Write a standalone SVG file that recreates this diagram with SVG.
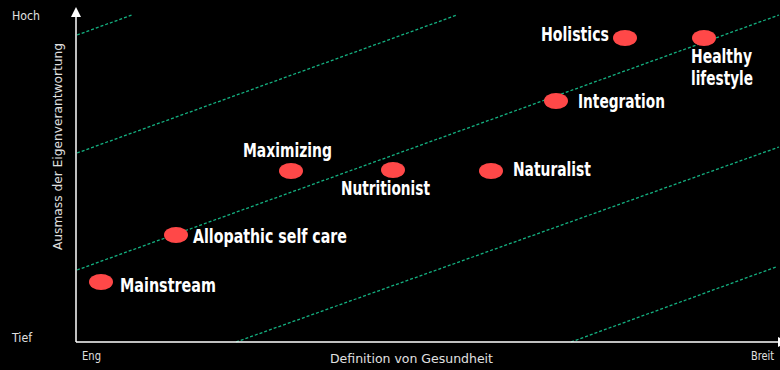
<svg xmlns="http://www.w3.org/2000/svg" width="780" height="370" viewBox="0 0 780 370">
<style>
.bg{fill:#000}
.axis{stroke:#fff;stroke-width:1.5;fill:none}
.ah{fill:#fff}
.guide{stroke:#14b080;stroke-width:1.3;stroke-dasharray:3 2;fill:none}
.dot{fill:#ff4848}
.lbl{font-family:"DejaVu Sans Condensed","Liberation Sans",sans-serif;font-weight:bold;font-size:20px;fill:#fff}
.ax{font-family:"DejaVu Sans Condensed","Liberation Sans",sans-serif;font-size:13px;fill:#e0e0e0}
</style>
<rect class="bg" x="0" y="0" width="780" height="370"/>
<g id="connectors">
<line class="guide" x1="77" y1="35" x2="132" y2="15"/>
<line class="guide" x1="77" y1="153" x2="457" y2="15"/>
<line class="guide" x1="77" y1="270" x2="779" y2="15"/>
<line class="guide" x1="236" y1="342" x2="779" y2="147"/>
<line class="guide" x1="571" y1="342" x2="776" y2="267"/>
</g>
<g id="axes">
<line class="axis" x1="76" y1="342" x2="76" y2="16"/>
<polygon class="ah" points="76,7 71,17 81,17"/>
<line class="axis" x1="76" y1="342" x2="779" y2="342"/>
<polygon class="ah" points="778,337 778,347 788,342"/>
<text class="ax" x="12" y="20" textLength="28" lengthAdjust="spacingAndGlyphs">Hoch</text>
<text class="ax" x="12" y="342" textLength="20" lengthAdjust="spacingAndGlyphs">Tief</text>
<text class="ax" x="82" y="360" textLength="19" lengthAdjust="spacingAndGlyphs">Eng</text>
<text class="ax" x="751" y="360" textLength="23" lengthAdjust="spacingAndGlyphs">Breit</text>
<text class="ax" x="330" y="363" textLength="163" lengthAdjust="spacingAndGlyphs">Definition von Gesundheit</text>
<text class="ax" transform="translate(62,250) rotate(-90)" textLength="207" lengthAdjust="spacingAndGlyphs">Ausmass der Eigenverantwortung</text>
</g>
<g id="mainstream"><ellipse class="dot" cx="101" cy="282" rx="12" ry="8"/><text class="lbl" x="120" y="292" textLength="96" lengthAdjust="spacingAndGlyphs">Mainstream</text></g>
<g id="allopathic"><ellipse class="dot" cx="176" cy="235" rx="12" ry="8"/><text class="lbl" x="193" y="243" textLength="154" lengthAdjust="spacingAndGlyphs">Allopathic self care</text></g>
<g id="maximizing"><ellipse class="dot" cx="291" cy="171" rx="12" ry="8"/><text class="lbl" x="243" y="157" textLength="89" lengthAdjust="spacingAndGlyphs">Maximizing</text></g>
<g id="nutritionist"><ellipse class="dot" cx="393" cy="170" rx="12" ry="8"/><text class="lbl" x="341" y="195" textLength="89" lengthAdjust="spacingAndGlyphs">Nutritionist</text></g>
<g id="naturalist"><ellipse class="dot" cx="491" cy="171" rx="12" ry="8"/><text class="lbl" x="513" y="176" textLength="78" lengthAdjust="spacingAndGlyphs">Naturalist</text></g>
<g id="integration"><ellipse class="dot" cx="556" cy="101" rx="12" ry="8"/><text class="lbl" x="578" y="108" textLength="87" lengthAdjust="spacingAndGlyphs">Integration</text></g>
<g id="holistics"><ellipse class="dot" cx="625" cy="38" rx="12" ry="8"/><text class="lbl" x="541" y="41" textLength="68" lengthAdjust="spacingAndGlyphs">Holistics</text></g>
<g id="healthy"><ellipse class="dot" cx="704" cy="38" rx="12" ry="8"/><text class="lbl" x="691" y="63" textLength="61" lengthAdjust="spacingAndGlyphs">Healthy</text><text class="lbl" x="691" y="85" textLength="62" lengthAdjust="spacingAndGlyphs">lifestyle</text></g>
</svg>
